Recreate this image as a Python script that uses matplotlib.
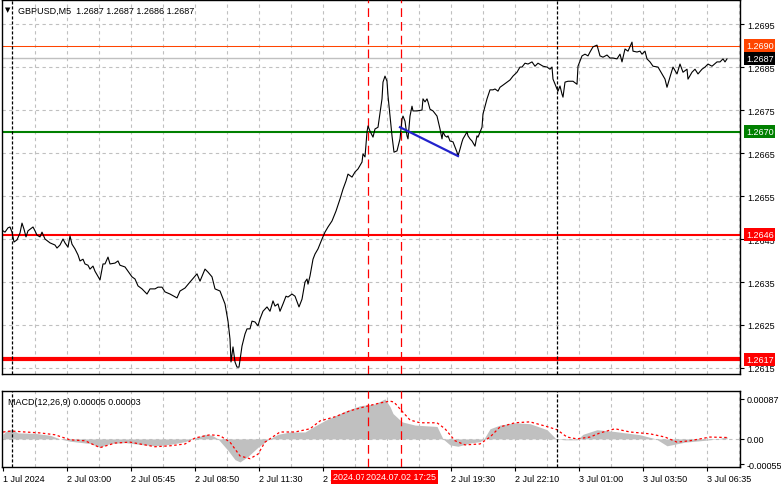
import matplotlib
matplotlib.use("Agg")
import matplotlib.pyplot as plt
import matplotlib.transforms as mtransforms

plt.rcParams['font.family'] = ['Liberation Sans', 'DejaVu Sans']
plt.rcParams['font.size'] = 6.5

# price series (bar index, close)
bars = [0, 1, 2.5, 3.5, 4.5, 5.5, 7, 8.5, 9.5, 10.5, 11.5, 12.5, 15, 16, 17, 18.5, 19.5, 21, 23.5, 26,
        27, 28.5, 30, 31, 32.5, 33.5, 34.5, 36, 37.5, 38.5, 40, 41, 42.5, 43.5, 45, 46, 48.5, 50, 51, 52.5,
        53.5, 56, 57.5, 58.5, 61, 62.5, 64.5, 66, 67.5, 69.5, 72, 73.5, 76, 77.5, 79.5, 81, 83.5, 87, 88.5, 91,
        93.5, 97, 98.5, 101, 102.5, 104.5, 106, 108.5, 109.5, 111, 112.5, 113.5, 114, 115, 116, 117, 118, 119.5, 121, 122,
        123.5, 124.5, 126, 127.5, 128.5, 130, 132, 133.5, 135, 136, 137.5, 138.5, 140, 141.5, 142.5, 144.5, 146, 148, 149.5, 151,
        152, 152.5, 153.5, 155, 156, 157.5, 159.5, 161, 162.5, 164.5, 166.5, 168.5, 170, 171.5, 172.5, 174.5, 176, 177.5, 179.5, 180,
        181, 182, 182.5, 183.5, 185, 186, 187.5, 189.5, 190, 191, 192, 192.5, 193.5, 194.5, 195.5, 197, 197.5, 198.5, 199.5, 200,
        201, 202, 202.5, 203.5, 204.5, 205, 207, 209.5, 210, 211, 212, 212.5, 213.5, 215, 217, 218.5, 219.5, 220, 221, 222,
        222.5, 223.5, 225, 227, 227.5, 228.5, 229.5, 230, 232, 232.5, 233.5, 234.5, 236, 237, 237.5, 239.5, 240, 241, 242, 243.5,
        245, 246, 247.5, 248.5, 250, 252, 253.5, 255, 257, 258.5, 259.5, 261, 262.5, 264.5, 266, 267.5, 270, 272, 273.5, 274.5,
        275, 277, 277.5, 278.5, 279.5, 280, 281, 282.5, 285, 287, 287.5, 289.5, 291, 292.5, 293.5, 295, 297, 298.5, 300, 302,
        303.5, 305, 307, 308.5, 309.5, 311, 312.5, 314.5, 315, 317, 318.5, 319.5, 321, 322, 323.5, 325, 327.5, 329.5, 331, 332,
        333.5, 335, 337, 338.5, 340, 342, 342.5, 344.5, 346, 347.5, 349.5, 351, 352.5, 354.5, 357, 358.5, 360, 361, 362]
closes = [1.26469, 1.26466, 1.26476, 1.26478, 1.26466, 1.26443, 1.26448, 1.26464, 1.26487, 1.26473, 1.26455, 1.26469, 1.26478, 1.26469, 1.26459, 1.26455, 1.26466, 1.26450, 1.26441, 1.26436,
          1.26429, 1.26436, 1.26450, 1.26441, 1.26431, 1.26457, 1.26438, 1.26427, 1.26413, 1.26399, 1.26403, 1.26392, 1.26389, 1.26380, 1.26387, 1.26375, 1.26355, 1.26392, 1.26392, 1.26408,
          1.26392, 1.26394, 1.26399, 1.26389, 1.26385, 1.26375, 1.26362, 1.26357, 1.26341, 1.26334, 1.26322, 1.26334, 1.26334, 1.26338, 1.26338, 1.26327, 1.26322, 1.26313, 1.26329, 1.26336,
          1.26350, 1.26369, 1.26352, 1.26380, 1.26373, 1.26362, 1.26334, 1.26329, 1.26317, 1.26299, 1.26259, 1.26217, 1.26164, 1.26199, 1.26164, 1.26152, 1.26152, 1.26201, 1.26229, 1.26241,
          1.26241, 1.26259, 1.26257, 1.26248, 1.26264, 1.26282, 1.26292, 1.26282, 1.26306, 1.26294, 1.26299, 1.26282, 1.26299, 1.26317, 1.26315, 1.26322, 1.26317, 1.26292, 1.26310, 1.26350,
          1.26357, 1.26345, 1.26364, 1.26403, 1.26415, 1.26427, 1.26450, 1.26466, 1.26478, 1.26492, 1.26515, 1.26543, 1.26566, 1.26585, 1.26601, 1.26594, 1.26606, 1.26613, 1.26629, 1.26648,
          1.26641, 1.26699, 1.26713, 1.26701, 1.26687, 1.26706, 1.26710, 1.26776, 1.26815, 1.26829, 1.26817, 1.26783, 1.26736, 1.26690, 1.26652, 1.26655, 1.26664, 1.26683, 1.26729, 1.26736,
          1.26724, 1.26690, 1.26683, 1.26736, 1.26759, 1.26748, 1.26748, 1.26750, 1.26776, 1.26769, 1.26776, 1.26769, 1.26752, 1.26748, 1.26736, 1.26706, 1.26683, 1.26699, 1.26690, 1.26687,
          1.26690, 1.26678, 1.26676, 1.26652, 1.26643, 1.26659, 1.26676, 1.26683, 1.26699, 1.26690, 1.26683, 1.26678, 1.26666, 1.26690, 1.26687, 1.26710, 1.26741, 1.26759, 1.26776, 1.26797,
          1.26797, 1.26799, 1.26794, 1.26803, 1.26808, 1.26815, 1.26820, 1.26829, 1.26838, 1.26850, 1.26850, 1.26859, 1.26857, 1.26862, 1.26852, 1.26859, 1.26852, 1.26850, 1.26845, 1.26850,
          1.26822, 1.26799, 1.26794, 1.26806, 1.26787, 1.26780, 1.26815, 1.26817, 1.26817, 1.26810, 1.26852, 1.26876, 1.26880, 1.26876, 1.26885, 1.26897, 1.26901, 1.26876, 1.26873, 1.26878,
          1.26871, 1.26871, 1.26869, 1.26880, 1.26862, 1.26892, 1.26887, 1.26908, 1.26887, 1.26885, 1.26887, 1.26880, 1.26887, 1.26869, 1.26862, 1.26852, 1.26850, 1.26834, 1.26822, 1.26803,
          1.26827, 1.26850, 1.26834, 1.26857, 1.26838, 1.26845, 1.26822, 1.26838, 1.26845, 1.26834, 1.26845, 1.26850, 1.26857, 1.26852, 1.26862, 1.26862, 1.26869, 1.26862, 1.26869]

# MACD histogram and signal (bar index, value)
hist_bars = [0, 2.5, 4.5, 7.5, 16, 23.5, 28.5, 33.5, 43.5, 48.5, 53.5, 61, 68.5, 76, 83.5, 91, 96, 101, 104.5, 107.5,
             112.5, 116, 118.5, 122.5, 127.5, 132.5, 137.5, 143.5, 151, 156, 161, 166, 171, 178.5, 186, 191, 193.5, 195, 199.5, 206,
             217, 220, 223.5, 227.5, 233.5, 238.5, 240.5, 243.5, 248.5, 256, 263.5, 272, 276.5, 281, 287, 290, 297, 306, 318.5, 326.5,
             332, 341, 351, 357.5, 362]
hist_vals = [0.00010, 0.00020, 0.00020, 0.00013, 0.00012, 0.00008, 0.0, -0.00005, -0.00010, -0.00018, -0.00010, -0.00008, -0.00012, -0.00015, -0.00012, -0.00006, 0.00002, 0.00010, 0.00008, 0.0,
             -0.00025, -0.00045, -0.00050, -0.00038, -0.00018, -0.00002, 0.00010, 0.00015, 0.00015, 0.00028, 0.00040, 0.00050, 0.00060, 0.00072, 0.00076, 0.00087, 0.00070, 0.00055, 0.00037, 0.00030,
             0.00027, 0.0, -0.00013, -0.00016, -0.00009, -0.00006, 0.0, 0.00022, 0.00030, 0.00035, 0.00033, 0.00020, 0.0, -0.00002, -0.00002, 0.00010, 0.00020, 0.00016, 0.00009, 0.0,
             -0.00015, -0.00007, -0.00003, 0.0, 0.00005]
sig_bars = [0, 4.5, 11, 18.5, 26, 33.5, 41, 48.5, 56, 63.5, 71, 76, 83.5, 91, 96, 103.5, 108.5, 113.5, 118.5, 123.5,
            127.5, 131, 138.5, 146, 153.5, 158.5, 166, 173.5, 181, 188.5, 193.5, 195.5, 198.5, 203.5, 208.5, 217, 221, 226, 231, 238.5,
            243.5, 248.5, 256, 263.5, 271, 277, 282, 287, 293.5, 298.5, 306, 313.5, 323.5, 331, 337, 343.5, 353.5, 362]
sig_vals = [0.00015, 0.00017, 0.00015, 0.00013, 0.00009, -0.00002, -0.00004, -0.00019, -0.00009, -0.00007, -0.00013, -0.00017, -0.00015, -0.00011, 0.00002, 0.00009, 0.00007, -0.00007, -0.00037, -0.00043,
            -0.00033, -0.00007, 0.00015, 0.00015, 0.00022, 0.00039, 0.00048, 0.00061, 0.00070, 0.00078, 0.00082, 0.00080, 0.00065, 0.00041, 0.00035, 0.00035, 0.00022, -0.00004, -0.00013, -0.00011,
            0.00004, 0.00026, 0.00035, 0.00037, 0.00028, 0.00020, 0.00004, 0.0, 0.00004, 0.00013, 0.00022, 0.00015, 0.00011, 0.00004, -0.00007, -0.00004, 0.00004, 0.00003]

# levels and markings
levels = [1.2690, 1.2670, 1.2646, 1.2617]
level_colors = ['#ff4500', '#008000', '#ff0000', '#ff0000']
level_widths = [1, 2, 2, 4]
last_price = 1.2687
trend_bars = [198.5, 227.5]
trend_prices = [1.26710, 1.26643]
red_vlines = [182.5, 199]
red_vline_labels = ['2024.07.02 16:00', '2024.07.02 17:25']
black_vlines = [4.5, 277]

price_ticks = [1.2615, 1.2625, 1.2635, 1.2645, 1.2655, 1.2665, 1.2675, 1.2685, 1.2695]
time_ticks = [0, 32, 64, 96, 128, 160, 224, 256, 288, 320, 352]
time_labels = ['1 Jul 2024', '2 Jul 03:00', '2 Jul 05:45', '2 Jul 08:50', '2 Jul 11:30', '2 Jul 14:15',
               '2 Jul 19:30', '2 Jul 22:10', '3 Jul 01:00', '3 Jul 03:50', '3 Jul 06:35']
grid_bars = list(range(16, 369, 16))

W, H = 781, 489
fig = plt.figure(figsize=(W / 100, H / 100), dpi=100)
ax = fig.add_axes([2 / W, 1 - 375 / H, 738 / W, 374 / H])
ax2 = fig.add_axes([2 / W, 1 - 468 / H, 738 / W, 76 / H])

grid_kw = dict(color='#c0c0c0', lw=0.8, linestyle=(0, (3, 3)), zorder=0)
for a in (ax, ax2):
    a.set_xlim(-0.5, 368.5)
    for g in grid_bars:
        a.axvline(g, **grid_kw)
    for v in black_vlines:
        a.axvline(v, color='black', lw=0.9, linestyle=(0, (2.5, 1.5)), zorder=3)
    for v in red_vlines:
        a.axvline(v, color='#ff0000', lw=0.9, linestyle=(0, (7, 4)), zorder=3)
    for s in a.spines.values():
        s.set_color('black')
        s.set_linewidth(1)

# main price panel
ax.set_ylim(1.26136, 1.27006)
for p in price_ticks:
    ax.axhline(p, **grid_kw)
ax.axhline(last_price, color='#c0c0c0', lw=1, zorder=1)
for lv, c, w in zip(levels, level_colors, level_widths):
    ax.axhline(lv, color=c, lw=w * 0.75, zorder=2)
ax.plot(bars, closes, color='black', lw=0.8, zorder=4)
ax.plot(trend_bars, trend_prices, color='#2222cc', lw=1.6, zorder=5)

ax.yaxis.tick_right()
ax.set_yticks(price_ticks)
ax.set_yticklabels(['%.4f' % p for p in price_ticks])
ax.tick_params(axis='y', length=3, pad=2, labelsize=6.5)
ax.set_xticks([])

tr = mtransforms.blended_transform_factory(ax.transAxes, ax.transData)
for lv, c in zip(levels + [last_price], level_colors + ['black']):
    ax.text(1.008, lv, '%.4f' % lv, transform=tr, ha='left', va='center', color='white',
            fontsize=6.5, clip_on=False, zorder=10,
            bbox=dict(boxstyle='square,pad=0.2', fc=c, ec='none'))

fig.text(8 / W, 1 - 10 / H, '\u25bc', fontsize=5, ha='center', va='center', family='DejaVu Sans')
fig.text(18 / W, 1 - 11 / H, 'GBPUSD,M5  1.2687 1.2687 1.2686 1.2687', fontsize=6.5,
         ha='left', va='center')

# MACD panel
ax2.set_ylim(-0.00061, 0.00104)
ax2.axhline(0, **grid_kw)
ax2.fill_between(hist_bars, 0, hist_vals, color='#c0c0c0', lw=0, zorder=1)
ax2.plot(sig_bars, sig_vals, color='#ff0000', lw=0.9, linestyle=(0, (2, 2)), zorder=2)
ax2.yaxis.tick_right()
ax2.set_yticks([0.00087, 0.0, -0.00055])
ax2.set_yticklabels(['0.00087', '0.00', '-0.00055'])
ax2.tick_params(axis='y', length=3, pad=2, labelsize=6.5)
ax2.set_xticks(time_ticks)
ax2.set_xticklabels(time_labels, ha='left')
ax2.tick_params(axis='x', length=3, pad=2, labelsize=6.5)
ax2.text(0.008, 0.86, 'MACD(12,26,9) 0.00005 0.00003', transform=ax2.transAxes,
         fontsize=6.5, ha='left', va='center')

trx = mtransforms.blended_transform_factory(ax2.transData, ax2.transAxes)
for v, lab in zip(red_vlines, red_vline_labels):
    ax2.text(v, -10 / 76, lab, transform=trx, ha='center', va='center', color='white',
             fontsize=6.5, clip_on=False, zorder=10,
             bbox=dict(boxstyle='square,pad=0.25', fc='#ff0000', ec='none'))

fig.savefig('out.png', dpi=100)
